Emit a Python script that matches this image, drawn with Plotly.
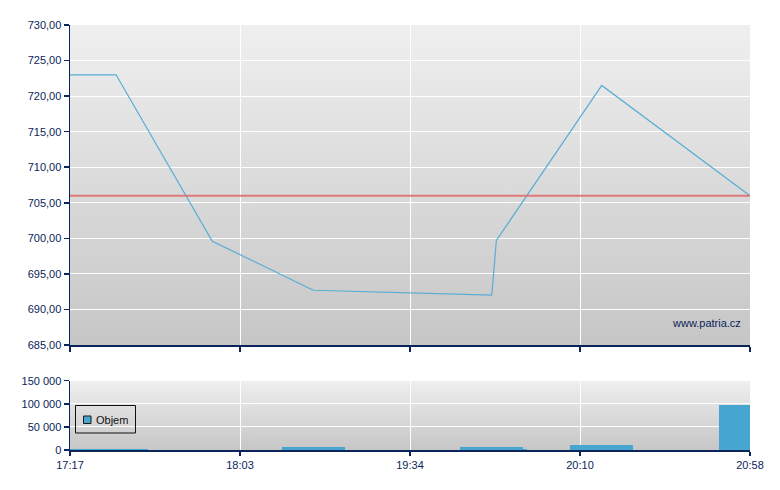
import plotly.graph_objects as go

# ---- data ----
tick_labels = ["17:17", "18:03", "19:34", "20:10", "20:58"]
tick_pos = [0, 1, 2, 3, 4]

# price points (x in tick-slot units)
price_x = [0.0, 0.271, 0.837, 1.431, 2.481, 2.508, 3.128, 4.0]
price_y = [723.0, 723.0, 699.6, 692.7, 692.0, 699.7, 721.5, 706.0]
ref_level = 706.0

# volume bars (slot start / end, volume)
vol_start = [0.0, 1.247, 2.294, 2.665, 2.941, 3.818]
vol_end = [0.457, 1.618, 2.665, 2.688, 3.312, 4.0]
vol_vals = [3000, 6500, 6500, 2000, 10800, 97000]
legend_label = "Objem"

W, H = 780, 490
NAVY = "#0b2459"
BAR = "#46a6cf"
FONT = "Arial, Liberation Sans, sans-serif"

# plot area pixel bounds
x0, x1 = 70, 750
m_top, m_bot = 25, 345
v_top, v_bot = 380.7, 450

def px(p):
    return p / W

def py(p):
    return 1 - p / H

fig = go.Figure()

fig.add_trace(go.Scatter(
    x=price_x, y=price_y, mode="lines",
    line=dict(color="#58acd4", width=1.2),
    xaxis="x", yaxis="y", showlegend=False, hoverinfo="skip"))

fig.add_trace(go.Bar(
    x=[(s + e) / 2 for s, e in zip(vol_start, vol_end)],
    width=[e - s for s, e in zip(vol_start, vol_end)],
    y=vol_vals, name=legend_label, marker=dict(color=BAR, line=dict(width=0)),
    xaxis="x2", yaxis="y2", showlegend=False, hoverinfo="skip"))

grad_svg = ("data:image/svg+xml;utf8,"
            "<svg xmlns='http://www.w3.org/2000/svg' width='10' height='100' preserveAspectRatio='none'>"
            "<defs><linearGradient id='g' x1='0' y1='0' x2='0' y2='1'>"
            "<stop offset='0' stop-color='%23efefef'/><stop offset='1' stop-color='%23c6c6c6'/>"
            "</linearGradient></defs><rect width='10' height='100' fill='url(%23g)'/></svg>")

images = []
for top, bot in [(m_top, m_bot), (v_top, v_bot)]:
    images.append(dict(source=grad_svg, xref="paper", yref="paper",
                       x=px(x0), y=py(top), sizex=(x1 - x0) / W, sizey=(bot - top) / H,
                       xanchor="left", yanchor="top", sizing="stretch", layer="below"))

tickstyle = dict(
    showgrid=True, gridcolor="white", gridwidth=1,
    showline=True, linecolor=NAVY, linewidth=1.5,
    ticks="outside", ticklen=5, tickcolor=NAVY, tickwidth=1.5,
    zeroline=False, tickfont=dict(family=FONT, size=11, color=NAVY),
    fixedrange=True, automargin=False)

xcommon = dict(tickstyle, range=[0, 4], tickvals=tick_pos, ticktext=tick_labels,
               domain=[px(x0), px(x1)])

shapes = [
    dict(type="line", xref="x", yref="y", x0=0, x1=4, y0=ref_level, y1=ref_level,
         line=dict(color="rgba(222,110,110,0.9)", width=2), layer="above"),
    # legend box
    dict(type="rect", xref="paper", yref="paper", x0=px(75.5), x1=px(135.5),
         y0=py(405.5), y1=py(433), line=dict(color="#111111", width=1),
         fillcolor="rgba(0,0,0,0)", layer="above"),
    # legend swatch
    dict(type="rect", xref="paper", yref="paper", x0=px(83.5), x1=px(91),
         y0=py(416), y1=py(423.5), line=dict(color="#1a1a1a", width=1),
         fillcolor=BAR, layer="above"),
]

fig.update_layout(
    width=W, height=H, autosize=False,
    margin=dict(l=0, r=0, t=0, b=0, pad=0, autoexpand=False),
    paper_bgcolor="white", plot_bgcolor="rgba(0,0,0,0)",
    separators=", ",
    font=dict(family=FONT, size=11, color=NAVY),
    images=images,
    showlegend=False,
    xaxis=dict(xcommon, anchor="y", showticklabels=False),
    yaxis=dict(tickstyle, domain=[py(m_bot), py(m_top)], range=[685, 730], dtick=5,
               tickformat=".2f", anchor="x"),
    xaxis2=dict(xcommon, anchor="y2", ticklen=4),
    yaxis2=dict(tickstyle, domain=[py(v_bot), py(v_top)], range=[0, 150000],
                tickvals=[0, 50000, 100000, 150000], tickformat=",d", anchor="x2"),
    shapes=shapes,
    annotations=[
        dict(text="www.patria.cz", xref="paper", yref="paper",
             x=px(743), y=py(323), xanchor="right", yanchor="middle",
             showarrow=False, font=dict(family=FONT, size=11, color=NAVY)),
        dict(text=legend_label, xref="paper", yref="paper",
             x=px(94), y=py(420), xanchor="left", yanchor="middle",
             showarrow=False, font=dict(family=FONT, size=11, color="#111111")),
    ],
    bargap=0,
)

fig.write_html("out.html", config={"displayModeBar": False, "staticPlot": True},
               post_script="document.body.style.margin='0';")
